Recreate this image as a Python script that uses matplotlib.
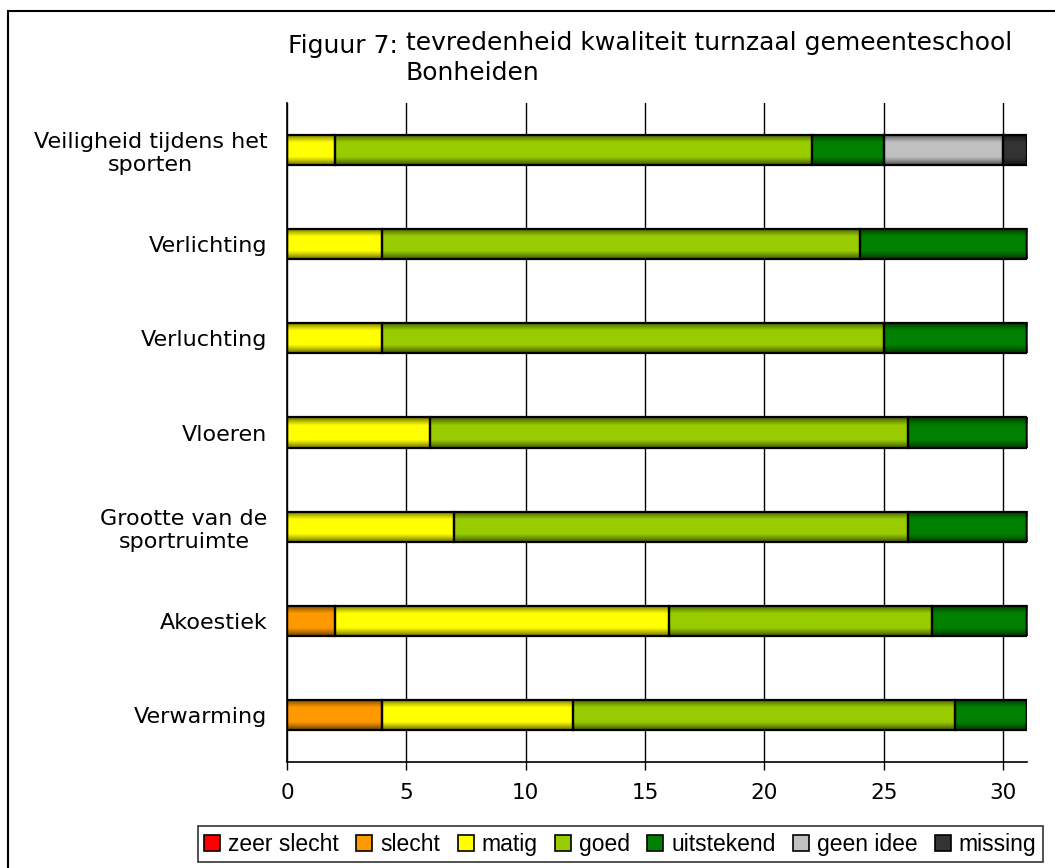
import matplotlib
matplotlib.use("Agg")
import matplotlib.pyplot as plt
import numpy as np
from matplotlib.patches import Rectangle
from matplotlib.colors import to_rgb

categories = ["Veiligheid tijdens het\nsporten", "Verlichting", "Verluchting", "Vloeren",
              "Grootte van de\nsportruimte", "Akoestiek", "Verwarming"]
series_names = ["zeer slecht", "slecht", "matig", "goed", "uitstekend", "geen idee", "missing"]
zeer_slecht = [0, 0, 0, 0, 0, 0, 0]
slecht = [0, 0, 0, 0, 0, 2, 4]
matig = [2, 4, 4, 6, 7, 14, 8]
goed = [20, 20, 21, 20, 19, 11, 16]
uitstekend = [3, 7, 6, 5, 5, 4, 3]
geen_idee = [5, 0, 0, 0, 0, 0, 0]
missing = [1, 0, 0, 0, 0, 0, 0]
colors = ["#FF0000", "#FF9900", "#FFFF00", "#99CC00", "#008000", "#C0C0C0", "#333333"]
xticks = [0, 5, 10, 15, 20, 25, 30]
title1 = "Figuur 7: "
title2 = "tevredenheid kwaliteit turnzaal gemeenteschool\nBonheiden"

series = [zeer_slecht, slecht, matig, goed, uitstekend, geen_idee, missing]

W, H = 1055, 868
fig = plt.figure(figsize=(W/100, H/100), dpi=100)
ax = fig.add_axes([287/W, 1-762/H, (1027-287)/W, (762-103)/H])

n = len(categories)
ypos = np.arange(n)[::-1]
h = 0.32
t = np.linspace(0, 1, 60)
prof = 0.42 + 0.58*np.clip(np.sin(np.pi*t)*1.35, 0, 1)

left = np.zeros(n)
for vals, col in zip(series, colors):
    vals = np.array(vals, dtype=float)
    base = np.array(to_rgb(col))
    img = (prof[:, None] * base[None, :])[:, None, :]
    for i in range(n):
        if vals[i] <= 0:
            continue
        ax.imshow(img, extent=(left[i], left[i]+vals[i], ypos[i]-h/2, ypos[i]+h/2),
                  aspect="auto", origin="upper", zorder=3, interpolation="bilinear")
    ax.barh(ypos, vals, left=left, height=h, facecolor="none",
            edgecolor="black", linewidth=1.6, zorder=4)
    left = left + vals

ax.set_xlim(0, 31)
ax.set_ylim(-0.5, n-0.5)
ax.set_xticks(xticks)
ax.set_yticks(ypos)
ax.set_yticklabels(categories, ha="right", multialignment="center",
                   fontsize=16, fontfamily="DejaVu Sans")
ax.tick_params(axis="y", length=0, pad=14)
ax.tick_params(axis="x", length=6, width=1, labelsize=15.5, pad=9, direction="out")
for lab in ax.get_xticklabels():
    lab.set_fontfamily("DejaVu Sans")
ax.grid(axis="x", color="black", linewidth=1, zorder=0)
ax.set_axisbelow(True)
for s in ["top", "right"]:
    ax.spines[s].set_visible(False)
for s in ["left", "bottom"]:
    ax.spines[s].set_linewidth(1.2)

t1 = fig.text(288/W, 1-46/H, title1, fontsize=18, family="DejaVu Sans", va="center", ha="left")
fig.canvas.draw()
bb = t1.get_window_extent()
t2 = fig.text(bb.x1/W, bb.y1/H + 0.004, title2, fontsize=18, family="DejaVu Sans",
              va="top", ha="left", linespacing=1.35)

handles = [Rectangle((0, 0), 1, 1, facecolor=c, edgecolor="black", linewidth=1.2) for c in colors]
leg = fig.legend(handles, series_names, loc="lower left", bbox_to_anchor=(198/W, 1-862/H),
                 ncol=7, frameon=True, fancybox=False, edgecolor="black",
                 prop={"family": "Liberation Sans", "size": 16.5}, handlelength=0.7,
                 handleheight=0.7, handletextpad=0.35, columnspacing=0.75, borderpad=0.28,
                 borderaxespad=0)
leg.get_frame().set_linewidth(1.2)

fig.patches.append(Rectangle((8/W, -0.1), 1.2, 1-11/H+0.1, transform=fig.transFigure,
                             fill=False, edgecolor="black", linewidth=1.5))

fig.savefig("out.png", dpi=100)
